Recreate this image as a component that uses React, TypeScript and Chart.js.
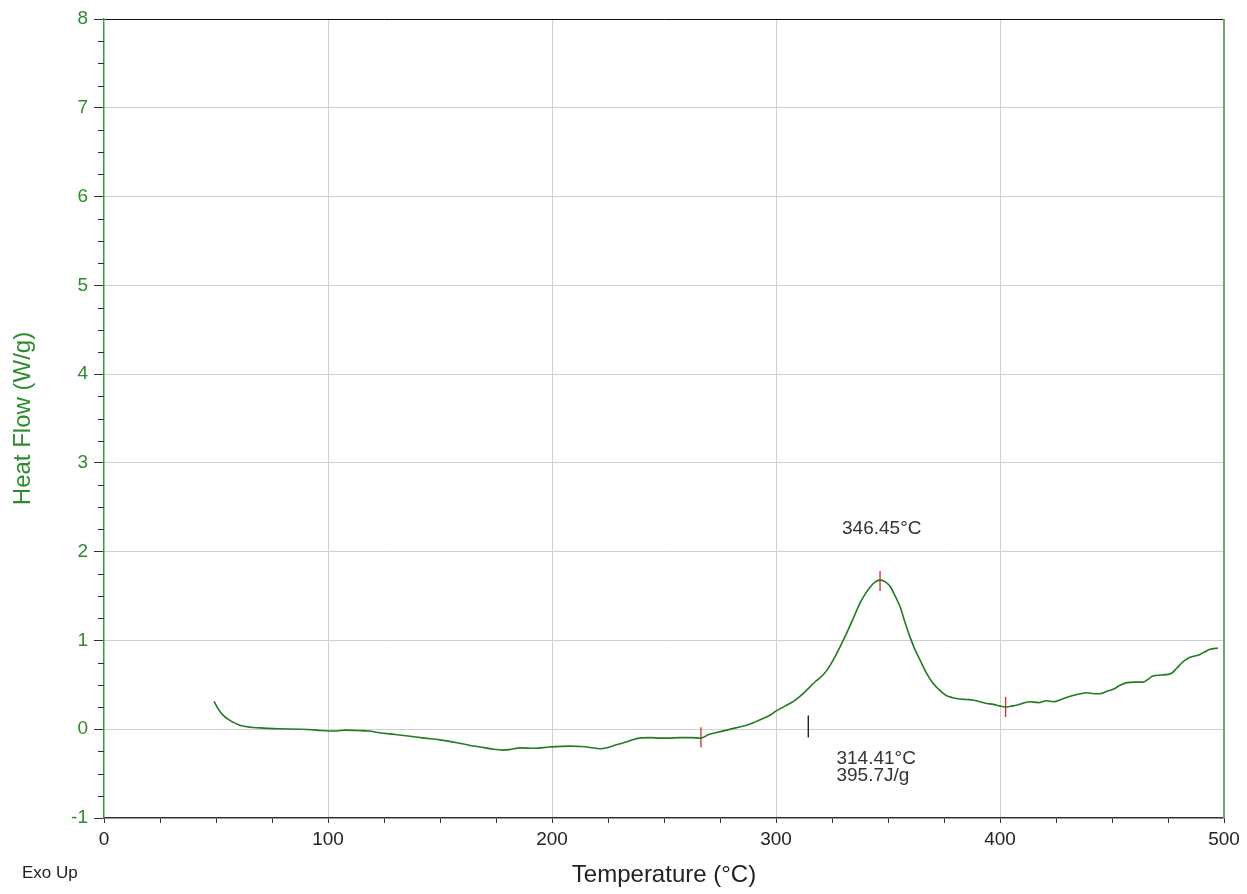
import { useEffect, useRef } from 'react';
import { Chart, registerables } from 'chart.js';

Chart.register(...registerables);

// Curve data: temperature (°C) vs heat flow (W/g)
const temperatures = [
  49.1, 50.5, 52, 53.5, 55.5, 57.6, 60, 63, 69.6, 78, 87.5, 95, 100, 104, 107.6, 113, 118, 123, 130,
  136.6, 143, 150, 157, 163, 168, 173.7, 178, 181, 185.7, 192, 199, 208, 213, 217, 221.4, 225, 228,
  231, 234.8, 239, 244, 248, 252, 257, 262, 266.5, 270, 274, 278, 282, 286.9, 290.5, 294.2, 297.5,
  300.3, 304, 307.6, 310.7, 313.7, 316, 318.2, 320.5, 322.6, 326, 330, 334, 337.5, 340, 342, 344,
  346.45, 348.5, 350.9, 353, 355.4, 357.5, 359.8, 362, 364.3, 367, 370, 373, 376, 379, 382, 385,
  388, 391, 394, 397, 400, 402.5, 405, 407.4, 410, 413.4, 417, 420.8, 424, 426.8, 430, 432.6, 436,
  438.7, 442, 444.6, 448, 450.5, 454, 456.6, 460, 463.8, 466, 468.3, 472, 476.6, 479, 481.7, 484,
  486, 488, 490.6, 493.8, 497.3,
];
const heatFlow = [
  0.315, 0.25, 0.19, 0.15, 0.11, 0.08, 0.05, 0.03, 0.015, 0.005, 0.0, -0.01, -0.02, -0.02, -0.01,
  -0.015, -0.02, -0.04, -0.06, -0.08, -0.1, -0.12, -0.15, -0.18, -0.2, -0.225, -0.235, -0.23, -0.21,
  -0.215, -0.2, -0.19, -0.195, -0.205, -0.22, -0.205, -0.18, -0.16, -0.13, -0.1, -0.095, -0.1, -0.1,
  -0.095, -0.095, -0.1, -0.06, -0.035, -0.01, 0.015, 0.045, 0.08, 0.12, 0.16, 0.21, 0.26, 0.31,
  0.37, 0.44, 0.5, 0.55, 0.6, 0.66, 0.8, 1.0, 1.22, 1.42, 1.53, 1.6, 1.655, 1.68, 1.665, 1.61, 1.51,
  1.38, 1.21, 1.04, 0.9, 0.78, 0.64, 0.52, 0.44, 0.38, 0.355, 0.34, 0.335, 0.33, 0.31, 0.29, 0.28,
  0.26, 0.25, 0.26, 0.27, 0.29, 0.31, 0.3, 0.32, 0.31, 0.33, 0.36, 0.38, 0.4, 0.41, 0.4, 0.4, 0.43,
  0.45, 0.5, 0.525, 0.53, 0.53, 0.56, 0.6, 0.61, 0.63, 0.69, 0.76, 0.8, 0.82, 0.83, 0.86, 0.9, 0.915,
];

// Analysis markers (red limits / peak) and onset marker (black)
const markerTemps = [266.5, 346.45, 402.5];
const markerValues = [-0.09, 1.67, 0.25];
const onsetTemps = [314.41];
const onsetValues = [0.03];

// Annotation texts and their anchor positions (data units)
const peakLabel = '346.45°C';
const peakLabelAt = [347.2, 2.26];
const onsetLabels = ['314.41°C', '395.7J/g'];
const onsetLabelAt = [327, -0.33, -0.52];

const xMin = 0;
const xMax = 500;
const yMin = -1;
const yMax = 8;

const FONT = '"Liberation Sans", Arial, sans-serif';
const GREEN = '#2e8b2e';
const LINE_GREEN = '#237a23';

const extrasPlugin = {
  id: 'extras',
  afterDraw(chart: any) {
    const { ctx, chartArea } = chart;
    const x = chart.scales.x;
    const y = chart.scales.y;
    ctx.save();
    // right border
    ctx.strokeStyle = '#6aa86a';
    ctx.lineWidth = 2;
    ctx.beginPath();
    ctx.moveTo(chartArea.right, chartArea.top);
    ctx.lineTo(chartArea.right, chartArea.bottom);
    ctx.stroke();
    // minor y ticks
    ctx.strokeStyle = '#333';
    ctx.lineWidth = 1;
    for (let v = yMin; v <= yMax; v += 0.25) {
      if (Math.abs(v - Math.round(v)) < 1e-6) continue;
      const py = Math.round(y.getPixelForValue(v)) + 0.5;
      ctx.beginPath();
      ctx.moveTo(chartArea.left - 6, py);
      ctx.lineTo(chartArea.left, py);
      ctx.stroke();
    }
    // annotation texts
    ctx.fillStyle = '#333';
    ctx.font = `19px ${FONT}`;
    ctx.textBaseline = 'middle';
    ctx.textAlign = 'center';
    ctx.fillText(peakLabel, x.getPixelForValue(peakLabelAt[0]), y.getPixelForValue(peakLabelAt[1]));
    ctx.textAlign = 'left';
    ctx.fillText(onsetLabels[0], x.getPixelForValue(onsetLabelAt[0]), y.getPixelForValue(onsetLabelAt[1]));
    ctx.fillText(onsetLabels[1], x.getPixelForValue(onsetLabelAt[0]), y.getPixelForValue(onsetLabelAt[2]));
    // Exo Up
    ctx.fillStyle = '#222';
    ctx.font = `17px ${FONT}`;
    ctx.fillText('Exo Up', 22, 873);
    ctx.restore();
  },
};

export default function App() {
  const canvasRef = useRef<HTMLCanvasElement | null>(null);

  useEffect(() => {
    if (!canvasRef.current) return;
    const curve = temperatures.map((t, i) => ({ x: t, y: heatFlow[i] }));
    const markers = markerTemps.map((t, i) => ({ x: t, y: markerValues[i] }));
    const onset = onsetTemps.map((t, i) => ({ x: t, y: onsetValues[i] }));

    const chart = new Chart(canvasRef.current, {
      type: 'line',
      data: {
        datasets: [
          {
            label: 'Heat Flow',
            data: curve,
            borderColor: LINE_GREEN,
            borderWidth: 1.6,
            pointRadius: 0,
            cubicInterpolationMode: 'monotone',
            fill: false,
          },
          {
            label: 'Limits',
            data: markers,
            showLine: false,
            pointStyle: 'line',
            rotation: 90,
            pointRadius: 10,
            borderColor: '#d42a2a',
            borderWidth: 1.3,
          },
          {
            label: 'Onset',
            data: onset,
            showLine: false,
            pointStyle: 'line',
            rotation: 90,
            pointRadius: 11,
            borderColor: '#111',
            borderWidth: 1.3,
          },
        ],
      } as any,
      options: {
        animation: false,
        responsive: true,
        maintainAspectRatio: false,
        layout: { padding: { top: 19, right: 23, bottom: 0, left: 0 } },
        plugins: {
          legend: { display: false },
          tooltip: { enabled: false },
        },
        scales: {
          x: {
            type: 'linear',
            min: xMin,
            max: xMax,
            afterFit(scale: any) {
              scale.height = 76;
            },
            ticks: {
              stepSize: 25,
              autoSkip: false,
              maxRotation: 0,
              padding: 5,
              color: '#222',
              font: { family: FONT, size: 19 },
              callback: (v: any) => (Number(v) % 100 === 0 ? String(v) : ''),
            },
            grid: {
              drawOnChartArea: true,
              tickLength: 5,
              tickColor: '#333',
              color: (c: any) => {
                const v = c.tick ? c.tick.value : 0;
                if (v === xMin || v === xMax) return 'rgba(0,0,0,0)';
                return v % 100 === 0 ? '#cfcfcf' : 'rgba(0,0,0,0)';
              },
            },
            border: { color: '#333', width: 1.5 },
            title: {
              display: true,
              text: 'Temperature (°C)',
              color: '#222',
              font: { family: FONT, size: 24 },
              padding: { top: 0, bottom: 4 },
            },
          },
          y: {
            type: 'linear',
            min: yMin,
            max: yMax,
            afterFit(scale: any) {
              scale.width = 104;
            },
            ticks: {
              stepSize: 1,
              padding: 6,
              color: GREEN,
              font: { family: FONT, size: 19 },
            },
            grid: {
              tickLength: 10,
              tickColor: '#333',
              color: (c: any) => {
                const v = c.tick ? c.tick.value : 0;
                if (v === yMax) return '#111';
                if (v === yMin) return 'rgba(0,0,0,0)';
                return '#cfcfcf';
              },
            },
            border: { color: '#3a9a3a', width: 1.5 },
            title: {
              display: true,
              text: 'Heat Flow (W/g)',
              color: GREEN,
              font: { family: FONT, size: 24 },
              padding: { top: 9, bottom: 0 },
            },
          },
        },
      } as any,
      plugins: [extrasPlugin],
    });
    return () => chart.destroy();
  }, []);

  return (
    <div style={{ position: 'absolute', left: 0, top: 0, width: 1247, height: 894, background: '#fff' }}>
      <canvas ref={canvasRef} />
    </div>
  );
}
